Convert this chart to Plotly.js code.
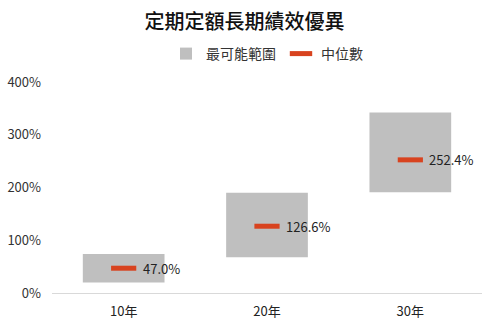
<!DOCTYPE html>
<html><head><meta charset="utf-8">
<script src="https://cdn.plot.ly/plotly-3.0.1.min.js"></script>
<style>html,body{margin:0;padding:0;background:#fff}#c{width:489px;height:330px}</style>
</head><body><div id="c"></div>
<script>
const categories = ['10年', '20年', '30年'];
const rangeLow = [20, 68, 191];
const rangeHigh = [74, 190, 342];
const medians = [47.0, 126.6, 252.4];
const medianLabels = ['47.0%', '126.6%', '252.4%'];
const yTickVals = [0, 100, 200, 300, 400];
const yTickText = ['0%', '100%', '200%', '300%', '400%'];

const font = '"Noto Sans CJK TC", "Noto Sans", sans-serif';

const traces = [
  {
    type: 'bar', name: '最可能範圍', x: categories,
    y: rangeHigh.map((h, i) => h - rangeLow[i]), base: rangeLow,
    marker: {color: '#bfbfbf'}, width: 0.57, hoverinfo: 'skip'
  },
  {
    type: 'scatter', mode: 'markers', name: '中位數', x: categories, y: medians,
    marker: {symbol: 'line-ew-open', size: 18, line: {color: '#d8431f', width: 5}, color: '#d8431f'}
  }
];

const annotations = categories.map((c, i) => ({
  x: c, y: medians[i], xref: 'x', yref: 'y', text: medianLabels[i], showarrow: false,
  xanchor: 'left', yanchor: 'middle', xshift: 17,
  font: {family: font, size: 13, color: '#222'}
}));

const layout = {
  width: 489, height: 330,
  margin: {l: 52, r: 7, t: 82, b: 37},
  paper_bgcolor: '#fff', plot_bgcolor: '#fff',
  font: {family: font, size: 13, color: '#333'},
  title: {text: '定期定額長期績效優異', font: {family: font, size: 20, color: '#111', weight: 500},
          x: 0.5, xanchor: 'center', y: 1 - 22/330, yanchor: 'middle'},
  showlegend: true,
  legend: {orientation: 'h', x: 0.5, xanchor: 'center', y: 1 + 28/211, yanchor: 'middle',
           font: {family: font, size: 14, color: '#333'}, itemwidth: 30, traceorder: 'normal'},
  annotations: annotations,
  xaxis: {type: 'category', showgrid: false, zeroline: false, showline: true, linecolor: '#d9d9d9', linewidth: 1,
          ticks: '', tickfont: {family: font, size: 13, color: '#222'}, ticklabelstandoff: 6, fixedrange: true},
  yaxis: {range: [0, 400], tickvals: yTickVals, ticktext: yTickText, showgrid: false, zeroline: false,
          showline: false, ticks: '', ticklabelstandoff: 10, tickfont: {family: font, size: 13, color: '#333'}, fixedrange: true},
  bargap: 0.43
};

Plotly.newPlot('c', traces, layout, {displayModeBar: false, staticPlot: true});
</script></body></html>
